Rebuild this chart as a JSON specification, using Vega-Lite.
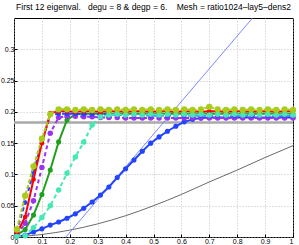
{
  "$schema": "https://vega.github.io/schema/vega-lite/v6.json",
  "width": 279,
  "height": 219,
  "autosize": {"type": "none"},
  "padding": {"left": 14, "top": 18, "right": 6, "bottom": 8},
  "title": {
    "text": "First 12 eigenval.\u00a0\u00a0\u00a0degu = 8 & degp = 6.\u00a0\u00a0\u00a0\u00a0Mesh = ratio1024\u2013lay5\u2013dens2",
    "font": "Liberation Sans",
    "fontSize": 8.5,
    "fontWeight": "normal",
    "color": "#000",
    "anchor": "middle",
    "offset": 5
  },
  "config": {
    "view": {"stroke": "#000", "strokeWidth": 1},
    "axis": {
      "domain": false,
      "grid": true,
      "gridColor": "#b0b0b0",
      "gridDash": [1, 2],
      "gridWidth": 0.8,
      "ticks": true,
      "tickSize": -3,
      "tickColor": "#000",
      "labelFont": "Liberation Sans",
      "labelFontSize": 7,
      "labelColor": "#000",
      "labelPadding": 3,
      "title": null
    }
  },
  "datasets": {
    "main": [
      {"x": 0.01, "lime": 0.012, "red": 0.006, "bl2": 0.009, "pur": 0.004, "cyan": 0.001, "green": 0.003, "blue": 0.001},
      {"x": 0.04, "lime": 0.066, "red": 0.032, "bl2": 0.055, "pur": 0.022, "cyan": 0.002, "green": 0.012, "blue": 0.003},
      {"x": 0.07, "lime": 0.113, "red": 0.092, "bl2": 0.104, "pur": 0.058, "cyan": 0.015, "green": 0.035, "blue": 0.008},
      {"x": 0.10, "lime": 0.157, "red": 0.150, "bl2": 0.152, "pur": 0.111, "cyan": 0.031, "green": 0.068, "blue": 0.013},
      {"x": 0.13, "lime": 0.196, "red": 0.198, "bl2": 0.195, "pur": 0.166, "cyan": 0.050, "green": 0.107, "blue": 0.019},
      {"x": 0.16, "lime": 0.204, "red": 0.201, "bl2": 0.197, "pur": 0.191, "cyan": 0.075, "green": 0.152, "blue": 0.024},
      {"x": 0.19, "lime": 0.204, "red": 0.201, "bl2": 0.197, "pur": 0.193, "cyan": 0.102, "green": 0.187, "blue": 0.030},
      {"x": 0.22, "lime": 0.203, "red": 0.200, "bl2": 0.197, "pur": 0.193, "cyan": 0.128, "green": 0.196, "blue": 0.037},
      {"x": 0.25, "lime": 0.204, "red": 0.201, "bl2": 0.196, "pur": 0.192, "cyan": 0.152, "green": 0.197, "blue": 0.046},
      {"x": 0.28, "lime": 0.203, "red": 0.201, "bl2": 0.196, "pur": 0.192, "cyan": 0.179, "green": 0.197, "blue": 0.056},
      {"x": 0.31, "lime": 0.204, "red": 0.200, "bl2": 0.196, "pur": 0.191, "cyan": 0.192, "green": 0.197, "blue": 0.067},
      {"x": 0.34, "lime": 0.203, "red": 0.201, "bl2": 0.196, "pur": 0.191, "cyan": 0.195, "green": 0.197, "blue": 0.080},
      {"x": 0.37, "lime": 0.204, "red": 0.201, "bl2": 0.195, "pur": 0.191, "cyan": 0.196, "green": 0.197, "blue": 0.095},
      {"x": 0.40, "lime": 0.203, "red": 0.200, "bl2": 0.195, "pur": 0.190, "cyan": 0.195, "green": 0.197, "blue": 0.109},
      {"x": 0.43, "lime": 0.204, "red": 0.201, "bl2": 0.195, "pur": 0.190, "cyan": 0.196, "green": 0.197, "blue": 0.123},
      {"x": 0.46, "lime": 0.203, "red": 0.201, "bl2": 0.195, "pur": 0.190, "cyan": 0.195, "green": 0.197, "blue": 0.137},
      {"x": 0.49, "lime": 0.204, "red": 0.200, "bl2": 0.194, "pur": 0.190, "cyan": 0.196, "green": 0.197, "blue": 0.150},
      {"x": 0.52, "lime": 0.203, "red": 0.201, "bl2": 0.194, "pur": 0.190, "cyan": 0.195, "green": 0.197, "blue": 0.160},
      {"x": 0.55, "lime": 0.204, "red": 0.201, "bl2": 0.194, "pur": 0.190, "cyan": 0.196, "green": 0.197, "blue": 0.169},
      {"x": 0.58, "lime": 0.203, "red": 0.200, "bl2": 0.194, "pur": 0.190, "cyan": 0.195, "green": 0.197, "blue": 0.177},
      {"x": 0.61, "lime": 0.204, "red": 0.201, "bl2": 0.194, "pur": 0.190, "cyan": 0.196, "green": 0.197, "blue": 0.184},
      {"x": 0.64, "lime": 0.203, "red": 0.201, "bl2": 0.194, "pur": 0.190, "cyan": 0.195, "green": 0.197, "blue": 0.188},
      {"x": 0.67, "lime": 0.204, "red": 0.200, "bl2": 0.194, "pur": 0.190, "cyan": 0.196, "green": 0.197, "blue": 0.190},
      {"x": 0.70, "lime": 0.208, "red": 0.201, "bl2": 0.194, "pur": 0.190, "cyan": 0.195, "green": 0.197, "blue": 0.191},
      {"x": 0.73, "lime": 0.204, "red": 0.201, "bl2": 0.194, "pur": 0.190, "cyan": 0.196, "green": 0.197, "blue": 0.191},
      {"x": 0.76, "lime": 0.203, "red": 0.200, "bl2": 0.194, "pur": 0.190, "cyan": 0.195, "green": 0.197, "blue": 0.191},
      {"x": 0.79, "lime": 0.204, "red": 0.201, "bl2": 0.194, "pur": 0.190, "cyan": 0.196, "green": 0.197, "blue": 0.191},
      {"x": 0.82, "lime": 0.203, "red": 0.201, "bl2": 0.194, "pur": 0.190, "cyan": 0.195, "green": 0.197, "blue": 0.191},
      {"x": 0.85, "lime": 0.204, "red": 0.200, "bl2": 0.194, "pur": 0.190, "cyan": 0.196, "green": 0.197, "blue": 0.191},
      {"x": 0.88, "lime": 0.203, "red": 0.201, "bl2": 0.194, "pur": 0.190, "cyan": 0.195, "green": 0.197, "blue": 0.191},
      {"x": 0.91, "lime": 0.204, "red": 0.201, "bl2": 0.194, "pur": 0.190, "cyan": 0.196, "green": 0.197, "blue": 0.191},
      {"x": 0.94, "lime": 0.203, "red": 0.200, "bl2": 0.194, "pur": 0.190, "cyan": 0.195, "green": 0.197, "blue": 0.191},
      {"x": 0.97, "lime": 0.204, "red": 0.201, "bl2": 0.194, "pur": 0.190, "cyan": 0.196, "green": 0.197, "blue": 0.191},
      {"x": 1.00, "lime": 0.203, "red": 0.201, "bl2": 0.194, "pur": 0.190, "cyan": 0.195, "green": 0.197, "blue": 0.191}
    ],
    "black": [
      {"x": 0, "y": 0}, {"x": 0.1, "y": 0.004}, {"x": 0.2, "y": 0.011}, {"x": 0.3, "y": 0.021},
      {"x": 0.4, "y": 0.034}, {"x": 0.5, "y": 0.05}, {"x": 0.6, "y": 0.068}, {"x": 0.7, "y": 0.088},
      {"x": 0.8, "y": 0.107}, {"x": 0.9, "y": 0.127}, {"x": 1.0, "y": 0.146}
    ],
    "thinblue": [{"x": 0.186, "y": 0}, {"x": 0.855, "y": 0.35}],
    "gray": [{"x": 0, "y": 0.183}, {"x": 1, "y": 0.183}]
  },
  "encoding": {
    "x": {"field": "x", "type": "quantitative", "scale": {"domain": [0, 1], "nice": false}, "axis": {"values": [0, 0.1, 0.2, 0.3, 0.4, 0.5, 0.6, 0.7, 0.8, 0.9, 1], "format": "~g"}},
    "y": {"field": "y", "type": "quantitative", "scale": {"domain": [0, 0.35], "nice": false}, "axis": {"values": [0, 0.05, 0.1, 0.15, 0.2, 0.25, 0.3], "format": "~g"}}
  },
  "layer": [
    {"data": {"name": "gray"}, "mark": {"type": "line", "color": "#aaaaaa", "strokeWidth": 2.5}},
    {"data": {"name": "black"}, "mark": {"type": "line", "color": "#444444", "strokeWidth": 0.8, "interpolate": "monotone"}},
    {"data": {"name": "thinblue"}, "mark": {"type": "line", "color": "#6c7cff", "strokeWidth": 0.9}},
    {"data": {"name": "main"}, "transform": [{"fold": ["blue"], "as": ["s", "y"]}],
     "mark": {"type": "line", "color": "#2244ff", "strokeWidth": 2, "point": {"filled": true, "size": 26, "color": "#2244ff"}}},
    {"data": {"name": "main"}, "transform": [{"fold": ["green"], "as": ["s", "y"]}],
     "mark": {"type": "line", "color": "#1fa01f", "strokeWidth": 2, "point": {"filled": true, "size": 26, "color": "#1fa01f"}}},
    {"data": {"name": "main"}, "transform": [{"fold": ["pur"], "as": ["s", "y"]}],
     "mark": {"type": "line", "color": "#9933ee", "strokeWidth": 2, "strokeDash": [4, 3], "point": {"filled": true, "size": 30, "color": "#9933ee"}}},
    {"data": {"name": "main"}, "transform": [{"fold": ["bl2"], "as": ["s", "y"]}],
     "mark": {"type": "line", "color": "#2244ff", "strokeWidth": 2, "strokeDash": [4, 3], "point": {"filled": true, "size": 22, "color": "#2244ff"}}},
    {"data": {"name": "main"}, "transform": [{"fold": ["red"], "as": ["s", "y"]}],
     "mark": {"type": "line", "color": "#ff0000", "strokeWidth": 2, "point": {"filled": true, "size": 22, "color": "#ff0000"}}},
    {"data": {"name": "main"}, "transform": [{"fold": ["cyan"], "as": ["s", "y"]}],
     "mark": {"type": "line", "color": "#44e8b4", "strokeWidth": 2, "strokeDash": [4, 3], "point": {"filled": true, "size": 30, "color": "#44e8b4"}}},
    {"data": {"name": "main"}, "transform": [{"fold": ["lime"], "as": ["s", "y"]}],
     "mark": {"type": "line", "color": "#a8cc1c", "strokeWidth": 2, "strokeDash": [4, 2], "point": {"filled": true, "size": 40, "color": "#a8cc1c"}}}
  ]
}
